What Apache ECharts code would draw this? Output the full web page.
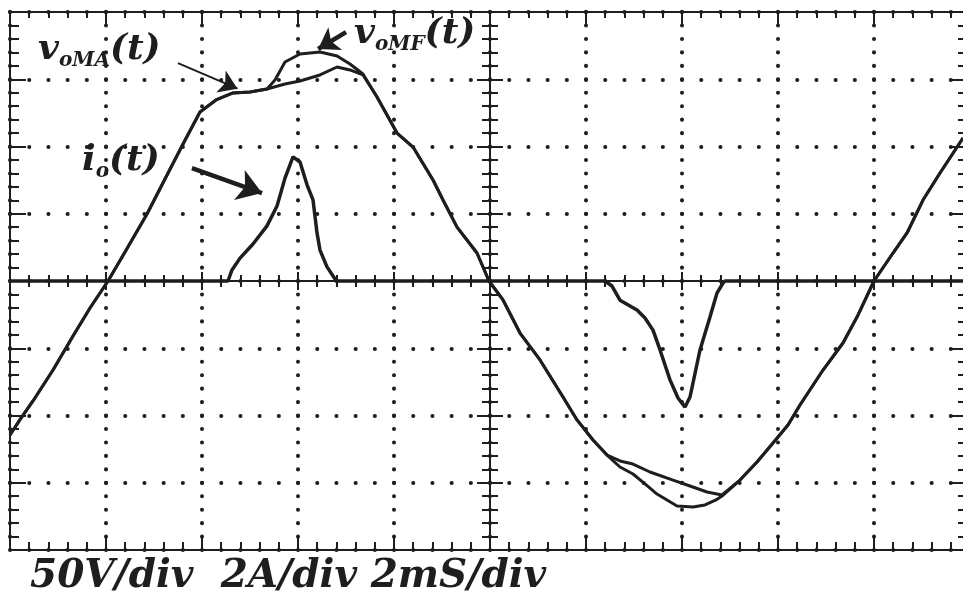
<!DOCTYPE html>
<html><head><meta charset="utf-8">
<script src="https://cdn.jsdelivr.net/npm/echarts@6/dist/echarts.min.js"></script>
<style>html,body{margin:0;padding:0;background:#fff}#c{width:963px;height:592px}</style>
</head><body><div id="c"></div>
<script>
// time in ms (2 ms/div), voltage in V (50 V/div), current in A (2 A/div)
const tMA = [0, 0.208, 0.479, 0.896, 1.313, 1.667, 2.042, 2.396, 2.854, 3.229, 3.583, 3.958, 4.292, 4.646, 5.0, 5.354, 5.729, 6.042, 6.458, 6.813, 7.083, 7.354, 7.646, 8.063, 8.396, 8.813, 9.021, 9.313, 9.729, 9.979, 10.271, 10.625, 11.042, 11.521, 11.813, 12.146, 12.438, 12.708, 12.979, 13.333, 13.813, 14.167, 14.521, 14.833, 15.208, 15.563, 15.896, 16.208, 16.458, 16.938, 17.354, 17.646, 18.0, 18.396, 18.688, 19.021, 19.375, 19.854];
const vMA = [-114.5, -103.1, -89.2, -66.2, -40.9, -20.1, 0, 21.6, 49.8, 75.8, 100.4, 125.7, 134.6, 139.8, 140.5, 142.8, 146.5, 148.7, 153.2, 159.1, 156.9, 153.2, 136.8, 110.0, 99.6, 75.1, 60.2, 40.1, 20.8, 0, -14.1, -38.7, -58.7, -86.2, -103.3, -118.2, -129.4, -133.8, -136.1, -142.0, -148.0, -152.4, -156.9, -159.1, -148.0, -134.6, -120.4, -107.1, -92.2, -66.2, -46.1, -26.8, 0, 20.8, 35.7, 60.2, 80.3, 106.3];
const tMF = [0, 0.208, 0.479, 0.896, 1.313, 1.667, 2.042, 2.396, 2.854, 3.229, 3.583, 3.958, 4.292, 4.646, 5.0, 5.354, 5.521, 5.729, 6.042, 6.458, 6.813, 7.083, 7.354, 7.646, 8.063, 8.396, 8.813, 9.021, 9.313, 9.729, 9.979, 10.271, 10.625, 11.042, 11.521, 11.813, 12.146, 12.438, 12.708, 12.979, 13.229, 13.479, 13.896, 14.229, 14.479, 14.708, 14.833, 15.208, 15.563, 15.896, 16.208, 16.458, 16.938, 17.354, 17.646, 18.0, 18.396, 18.688, 19.021, 19.375, 19.854];
const vMF = [-114.5, -103.1, -89.2, -66.2, -40.9, -20.1, 0, 21.6, 49.8, 75.8, 100.4, 125.7, 134.6, 139.8, 140.5, 142.8, 149.4, 162.8, 168.8, 170.3, 167.3, 161.3, 153.9, 136.8, 110.0, 99.6, 75.1, 60.2, 40.1, 20.8, 0, -14.1, -38.7, -58.7, -86.2, -103.3, -118.2, -129.4, -138.3, -143.5, -150.9, -158.4, -167.3, -168.0, -166.5, -162.8, -159.9, -148.0, -134.6, -120.4, -107.1, -92.2, -66.2, -46.1, -26.8, 0, 20.8, 35.7, 60.2, 80.3, 106.3];
const tIo = [0, 4.542, 4.625, 4.792, 5.063, 5.354, 5.563, 5.729, 5.896, 6.042, 6.188, 6.313, 6.396, 6.458, 6.604, 6.771, 6.813, 12.396, 12.542, 12.708, 13.063, 13.229, 13.396, 13.542, 13.75, 13.917, 14.063, 14.167, 14.375, 14.583, 14.729, 14.854, 14.896, 20];
const iIo = [0, 0, 0.33, 0.68, 1.10, 1.64, 2.23, 3.06, 3.69, 3.54, 2.86, 2.41, 1.43, 0.92, 0.42, 0.06, 0, 0, -0.15, -0.57, -0.86, -1.10, -1.46, -2.05, -2.94, -3.48, -3.75, -3.45, -2.05, -1.07, -0.36, -0.06, 0, 0];
const scaleText = '50V/div  2A/div 2mS/div';

const ink = '#1e1e1e';
const FONT = 'DejaVu Serif';
const zip = (a, b) => a.map((v, i) => [v, b[i]]);

const chart = echarts.init(document.getElementById('c'), null, {renderer: 'canvas'});
const hidden = {show: false};
function borderAxis(extra) {
  return Object.assign({
    type: 'value', axisLabel: hidden, splitLine: hidden,
    axisLine: {show: true, onZero: false, lineStyle: {color: ink, width: 2}},
  }, extra);
}
const dotX = {show: true, lineStyle: {color: ink, width: 4, type: [0.1, 13.35], cap: 'round', dashOffset: 0}};
const dotY = {show: true, lineStyle: {color: ink, width: 4, type: [0.1, 19.1], cap: 'round', dashOffset: 0}};
const tick = (len, w) => ({show: true, inside: true, length: len, lineStyle: {color: ink, width: w || 2}});
const minor = (len, w) => ({show: true, splitNumber: 5, length: len, lineStyle: {color: ink, width: w || 2}});

const arrowLine = (from, to, w, head) => [
  {coord: from, symbol: 'none', symbolSize: 1, lineStyle: {color: ink, width: w, type: 'solid'}},
  {coord: to, symbol: 'arrow', symbolSize: head, itemStyle: {color: ink}}
];

const richLabel = {
  b: {fontSize: 36, fontFamily: FONT, fontStyle: 'italic', fontWeight: 'bold', lineHeight: 42, fill: ink},
  s: {fontSize: 20, fontFamily: FONT, fontStyle: 'italic', fontWeight: 'bold', lineHeight: 42, verticalAlign: 'bottom', fill: ink}
};

chart.setOption({
  animation: false,
  backgroundColor: '#fff',
  grid: {left: 10, top: 12, width: 960, height: 538, outerBoundsMode: 'none'},
  xAxis: [
    borderAxis({min: 0, max: 20, interval: 2, position: 'bottom', axisTick: tick(14), minorTick: minor(8), splitLine: dotX}),
    borderAxis({min: 0, max: 20, interval: 2, position: 'top', axisTick: tick(13), minorTick: minor(6)}),
    borderAxis({min: 0, max: 20, interval: 2, position: 'bottom', offset: -269, axisTick: tick(9), minorTick: minor(6)}),
    borderAxis({min: 0, max: 20, interval: 2, position: 'top', offset: -269, axisTick: tick(9), minorTick: minor(6)})
  ],
  yAxis: [
    borderAxis({min: -200, max: 200, interval: 50, position: 'left', axisTick: tick(16), minorTick: minor(9), splitLine: dotY}),
    borderAxis({min: -8, max: 8, interval: 2, position: 'right', axisTick: tick(18), minorTick: minor(12)}),
    borderAxis({min: -4, max: 4, interval: 1, position: 'left', offset: -480, axisTick: tick(13), minorTick: minor(8)}),
    borderAxis({min: -4, max: 4, interval: 1, position: 'right', offset: -480, axisTick: tick(13), minorTick: minor(8)})
  ],
  series: [
    {
      name: 'v_oMA(t)', type: 'line', xAxisIndex: 0, yAxisIndex: 0, data: zip(tMA, vMA),
      symbol: 'none', lineStyle: {color: ink, width: 3}, z: 5, silent: true,
      markLine: {
        silent: true, animation: false, label: hidden, emphasis: {disabled: true},
        data: [
          arrowLine([3.5, 162], [4.74, 143], 2, 18),
          arrowLine([7.0, 185], [6.42, 172.5], 4.5, 20),
          arrowLine([3.79, 84], [5.25, 65.4], 4.5, 24)
        ]
      }
    },
    {
      name: 'v_oMF(t)', type: 'line', xAxisIndex: 0, yAxisIndex: 0, data: zip(tMF, vMF),
      symbol: 'none', lineStyle: {color: ink, width: 3}, z: 5, silent: true
    },
    {
      name: 'i_o(t)', type: 'line', xAxisIndex: 0, yAxisIndex: 1, data: zip(tIo, iIo),
      symbol: 'none', lineStyle: {color: ink, width: 3.5}, z: 5, silent: true
    }
  ],
  graphic: [
    {type: 'text', left: 38, top: 32, z: 10, style: {text: '{b|v}{s|oMA}{b|(t)}', fill: ink, rich: richLabel}},
    {type: 'text', left: 354, top: 16, z: 10, style: {text: '{b|v}{s|oMF}{b|(t)}', fill: ink, rich: richLabel}},
    {type: 'text', left: 82, top: 143, z: 10, style: {text: '{b|i}{s|o}{b|(t)}', fill: ink, rich: richLabel}},
    {type: 'text', left: 30, top: 557, z: 10, style: {
      text: scaleText, fill: ink,
      font: 'italic bold 39px "DejaVu Serif"'
    }}
  ]
});
</script></body></html>
